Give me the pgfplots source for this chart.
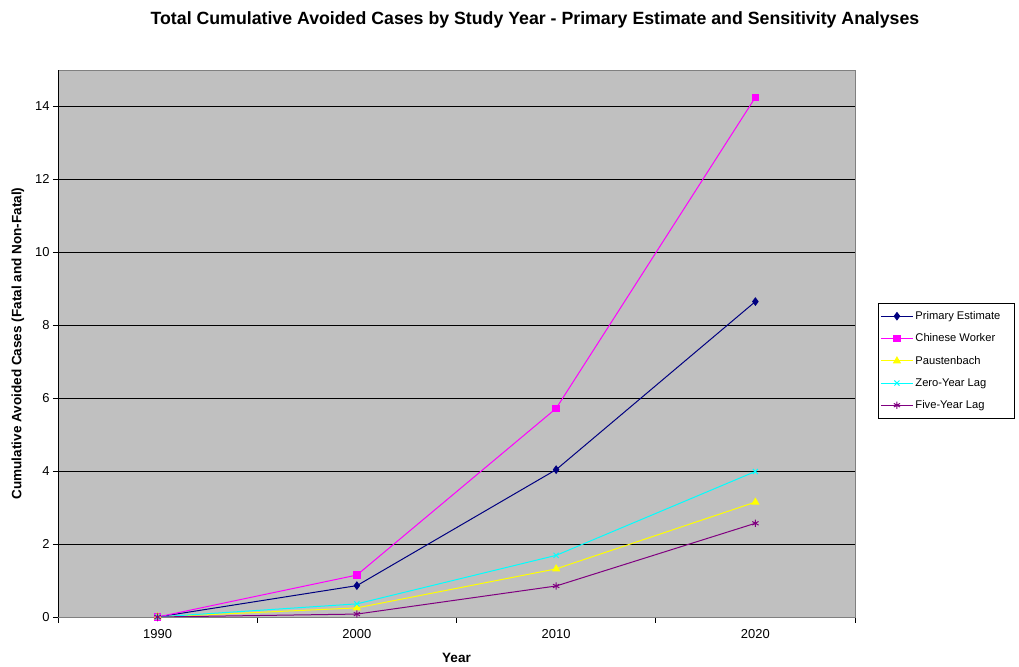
\documentclass[border=0pt]{standalone}
\usepackage{pgfplots}
\pgfplotsset{compat=1.18}
\usepackage{fontspec}
\setmainfont{Liberation Sans}
\definecolor{plotbg}{RGB}{192,192,192}
\definecolor{cnavy}{RGB}{0,0,128}
\definecolor{cmag}{RGB}{255,0,255}
\definecolor{cyel}{RGB}{255,255,0}
\definecolor{ccyan}{RGB}{0,255,255}
\definecolor{cpurp}{RGB}{128,0,128}
\begin{document}
\begin{tikzpicture}[x=1bp,y=1bp]
\path[use as bounding box] (0,0) rectangle (1019,667);
\node[font=\bfseries\fontsize{17.8}{20}\selectfont] at (535,647) {Total Cumulative Avoided Cases by Study Year - Primary Estimate and Sensitivity Analyses};
\begin{axis}[
  at={(58bp,50bp)}, anchor=south west,
  scale only axis, width=797bp, height=547bp,
  xmin=-0.5, xmax=3.5, ymin=0, ymax=15,
  xtick={0,1,2,3}, xticklabels={1990,2000,2010,2020},
  major x tick style={draw=none},
  minor xtick={-0.5,0.5,1.5,2.5,3.5},
  minor tick length=6bp,
  ytick={0,2,...,14},
  major tick length=5bp,
  tick align=outside,
  tick style={black, line width=0.8bp},
  xtick pos=bottom, ytick pos=left,
  ymajorgrids,
  major grid style={black, line width=0.8bp},
  axis background/.style={fill=plotbg},
  axis line style={draw=gray, line width=0.8bp},
  tick label style={font=\fontsize{13}{15}\selectfont},
  /pgf/number format/assume math mode=true,
  xticklabel style={yshift=-4bp},
  xlabel={Year},
  ylabel={Cumulative Avoided Cases (Fatal and Non-Fatal)},
  xlabel style={font=\bfseries\fontsize{13.6}{15}\selectfont, at={(axis description cs:0.5,-0.075)}, anchor=center},
  ylabel style={font=\bfseries\fontsize{13.6}{15}\selectfont, at={(axis description cs:-0.0502,0.5)}, anchor=center},
  legend style={at={(1.0289,0.574)}, anchor=north west, draw=black, line width=0.8bp,
    font=\fontsize{11.2}{13}\selectfont, row sep=8.8bp, inner xsep=2bp, inner ysep=6bp,
    /tikz/every even column/.append style={column sep=1bp}},
  legend cell align=left,
  legend image code/.code={\draw[mark repeat=2,mark phase=2] plot coordinates {(0bp,0bp) (16bp,0bp) (32bp,0bp)};},
  every axis plot/.append style={line width=1bp},
]
\addplot[cnavy, mark=diamond*, mark size=3.6bp, mark options={fill=cnavy}] coordinates {(0,0) (1,0.86) (2,4.04) (3,8.65)};
\addlegendentry{Primary Estimate\kern10bp}
\addplot[cmag, mark=square*, mark size=3.3bp, mark options={fill=cmag}] coordinates {(0,0) (1,1.15) (2,5.72) (3,14.25)};
\addlegendentry{Chinese Worker}
\addplot[cyel, mark=triangle*, mark size=3.8bp, mark options={fill=cyel}] coordinates {(0,0) (1,0.25) (2,1.32) (3,3.15)};
\addlegendentry{Paustenbach}
\addplot[ccyan, mark=x, mark size=3.6bp] coordinates {(0,0) (1,0.36) (2,1.69) (3,3.99)};
\addlegendentry{Zero-Year Lag}
\addplot[cpurp, mark=asterisk, mark size=3.6bp] coordinates {(0,0) (1,0.08) (2,0.85) (3,2.57)};
\addlegendentry{Five-Year Lag}
\draw[black, line width=0.8bp] (rel axis cs:0,0) -- (rel axis cs:1,0);
\draw[black, line width=0.8bp] (rel axis cs:0,0) -- (rel axis cs:0,1);
\end{axis}
\end{tikzpicture}
\end{document}
